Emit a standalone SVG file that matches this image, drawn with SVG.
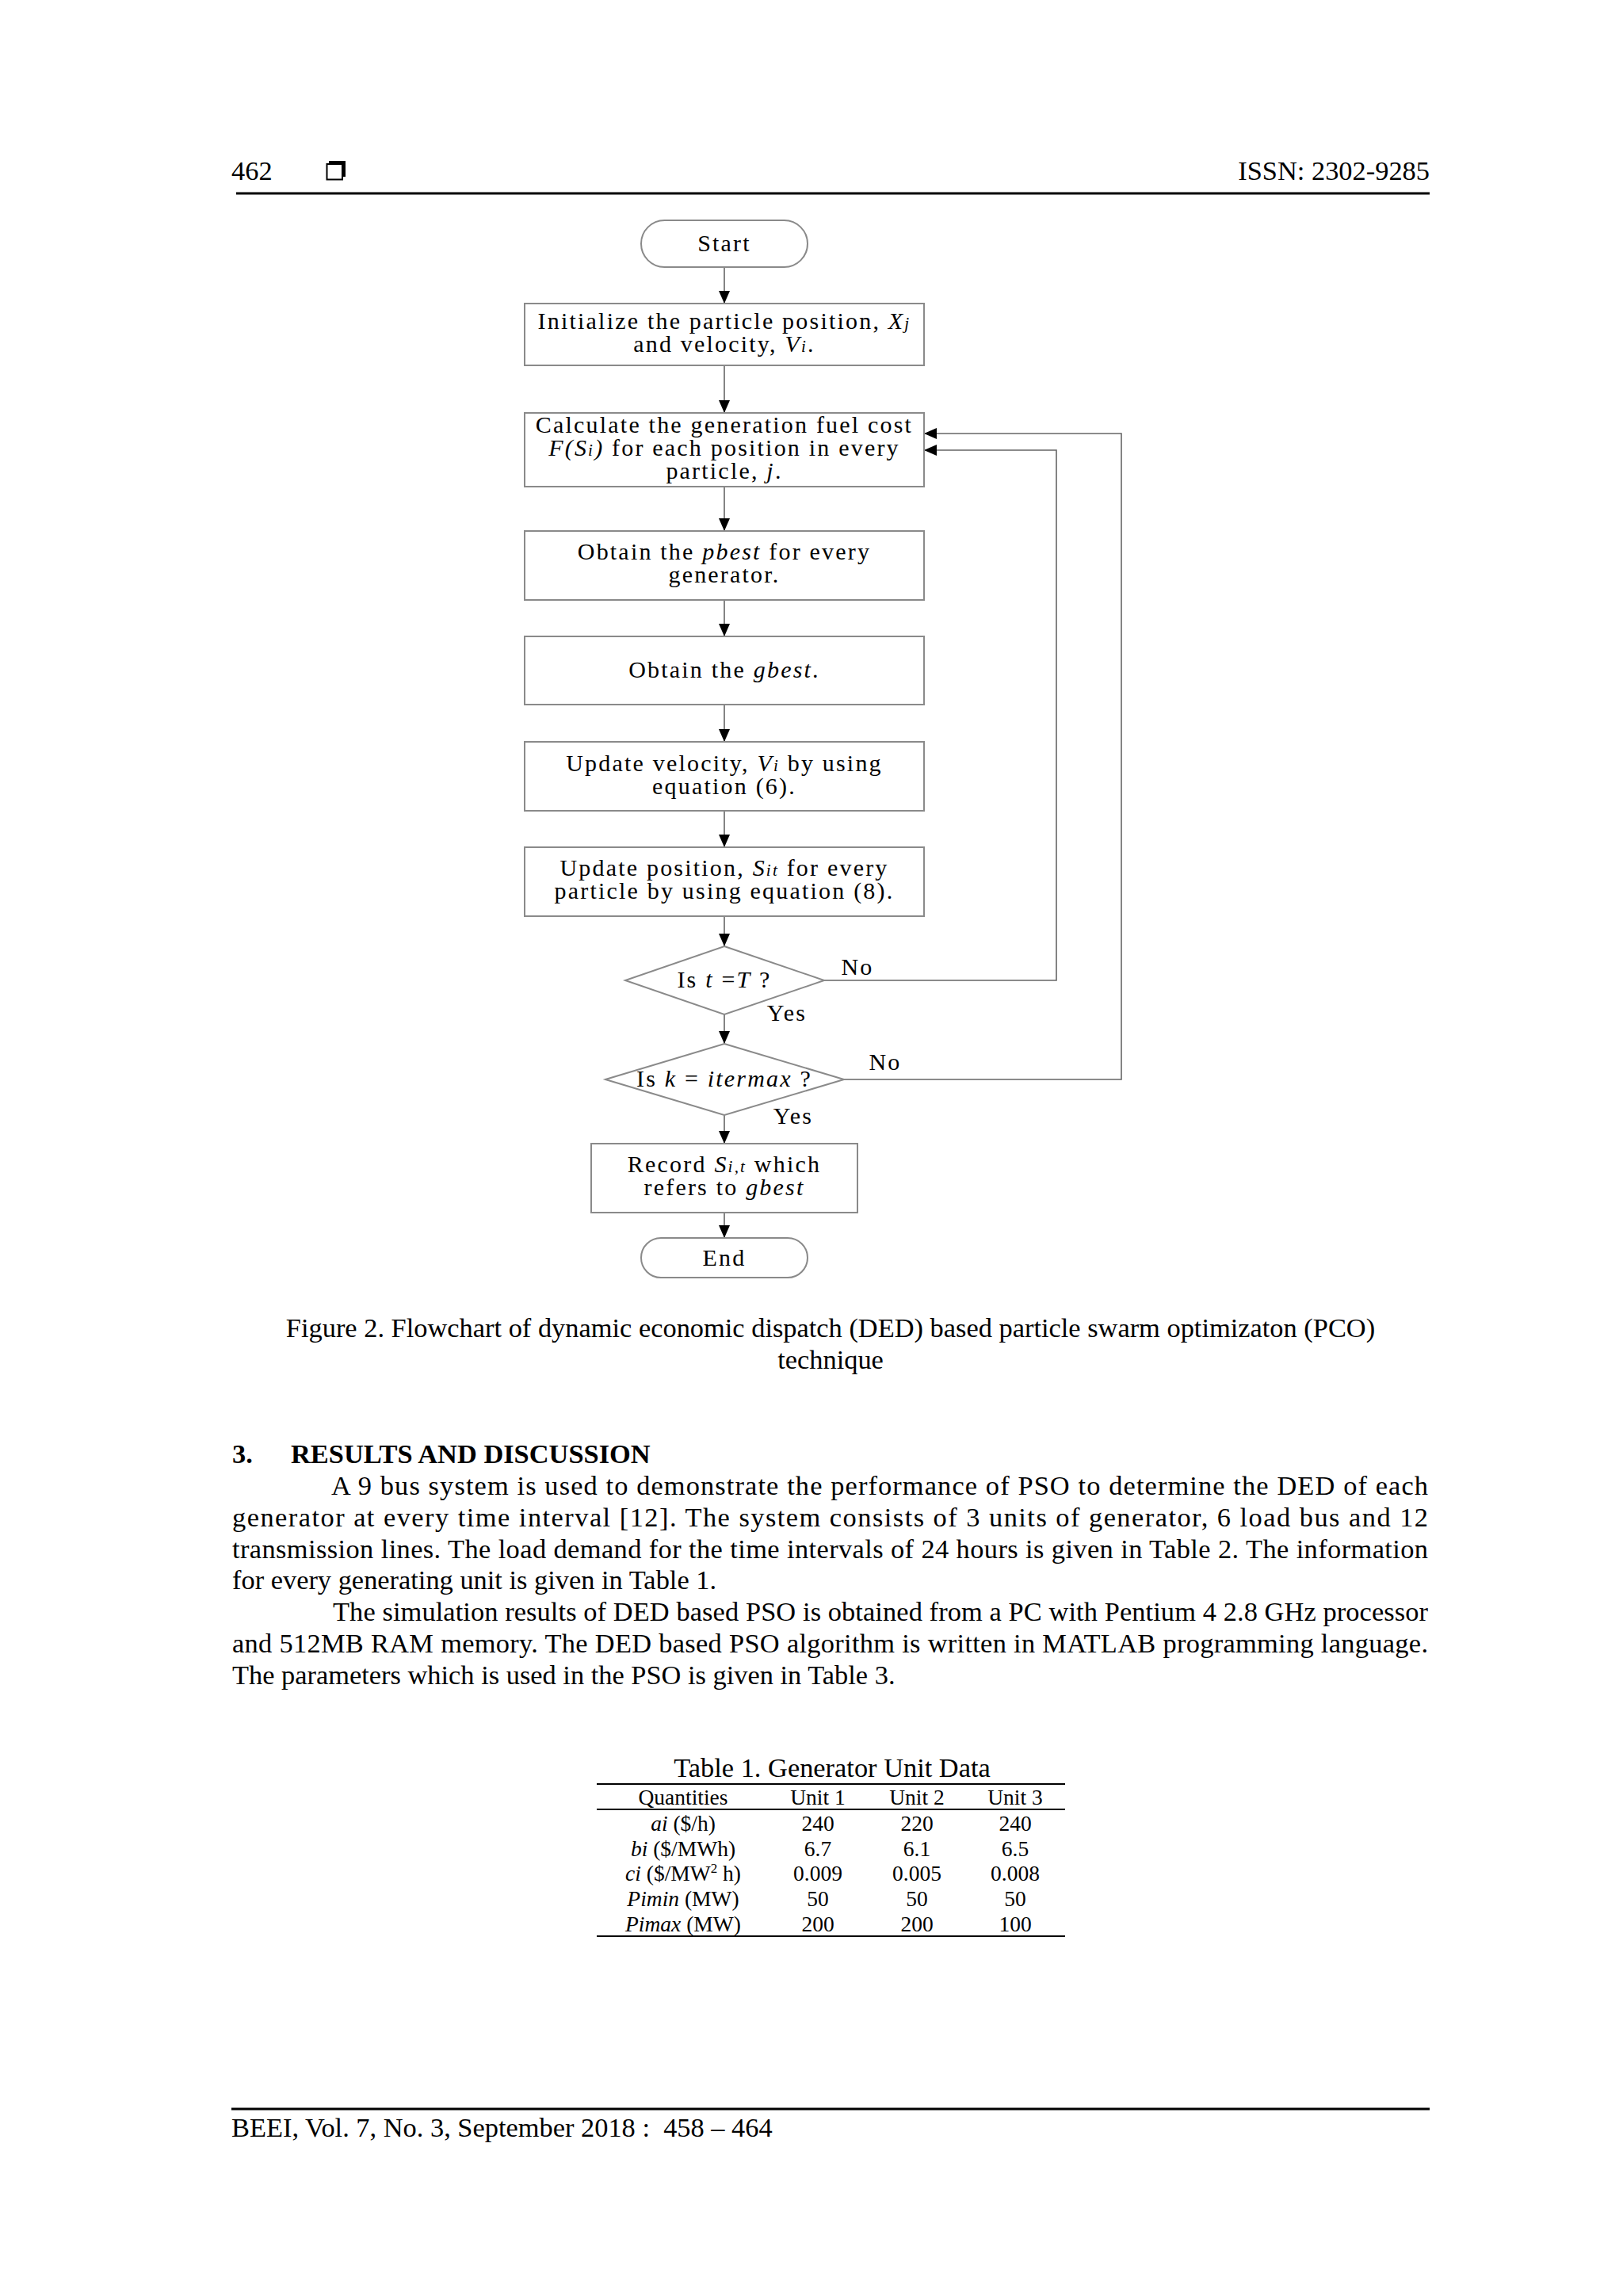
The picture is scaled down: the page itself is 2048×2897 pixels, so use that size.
<svg xmlns="http://www.w3.org/2000/svg" width="2048" height="2897" viewBox="0 0 2048 2897">
<defs>
<style>
.pg{font-family:"Liberation Serif","Times New Roman",serif;fill:#000;font-size:34.4px}
.fc{font-family:"Liberation Serif","Times New Roman",serif;fill:#000;font-size:30px;letter-spacing:2.2px;text-anchor:middle}
.tb{font-family:"Liberation Serif","Times New Roman",serif;fill:#000;font-size:27.5px;text-anchor:middle}
.box{fill:#fff;stroke:#8a8a8a;stroke-width:2}
.conn{fill:none;stroke:#666;stroke-width:1.6}
.rule{stroke:#000;fill:none}
.it{font-style:italic}
.sb{font-style:italic;font-size:21px}
</style>
<marker id="ah" markerUnits="userSpaceOnUse" markerWidth="16" markerHeight="14" refX="16" refY="7" orient="auto">
<path d="M0,0 L16,7 L0,14 z" fill="#000"/>
</marker>
</defs>
<rect width="2048" height="2897" fill="#fff"/>

<g id="header">
<text class="pg" x="292" y="227">462</text>
<rect x="415" y="203" width="21" height="20" fill="#000"/>
<rect x="412.5" y="207" width="19.5" height="19.5" fill="#fff" stroke="#000" stroke-width="2"/>
<text class="pg" x="1804" y="227" text-anchor="end">ISSN: 2302-9285</text>
<line class="rule" x1="298" y1="244" x2="1804" y2="244" stroke-width="3"/>
</g>

<g id="connectors">
<line class="conn" x1="914" y1="337" x2="914" y2="383" marker-end="url(#ah)"/>
<line class="conn" x1="914" y1="461" x2="914" y2="521" marker-end="url(#ah)"/>
<line class="conn" x1="914" y1="614" x2="914" y2="670" marker-end="url(#ah)"/>
<line class="conn" x1="914" y1="757" x2="914" y2="803" marker-end="url(#ah)"/>
<line class="conn" x1="914" y1="889" x2="914" y2="936" marker-end="url(#ah)"/>
<line class="conn" x1="914" y1="1023" x2="914" y2="1069" marker-end="url(#ah)"/>
<line class="conn" x1="914" y1="1156" x2="914" y2="1194" marker-end="url(#ah)"/>
<line class="conn" x1="914" y1="1280" x2="914" y2="1317" marker-end="url(#ah)"/>
<line class="conn" x1="914" y1="1407" x2="914" y2="1443" marker-end="url(#ah)"/>
<line class="conn" x1="914" y1="1530" x2="914" y2="1562" marker-end="url(#ah)"/>
<polyline class="conn" points="1040,1237 1333,1237 1333,568 1166,568" stroke="#888" marker-end="url(#ah)"/>
<polyline class="conn" points="1065,1362 1415,1362 1415,547 1166,547" stroke="#888" marker-end="url(#ah)"/>
<text class="fc" x="1082" y="1230">No</text>
<text class="fc" x="993" y="1288">Yes</text>
<text class="fc" x="1117" y="1350">No</text>
<text class="fc" x="1001" y="1418">Yes</text>
</g>

<g id="start">
<rect class="box" x="809" y="278" width="210" height="59" rx="29.5"/>
<text class="fc" x="914" y="317">Start</text>
</g>

<g id="init">
<rect class="box" x="662" y="383" width="504" height="78"/>
<text class="fc" x="914" y="415">Initialize the particle position, <tspan class="it">X</tspan><tspan class="sb">j</tspan></text>
<text class="fc" x="914" y="444">and velocity, <tspan class="it">V</tspan><tspan class="sb">i</tspan>.</text>
</g>

<g id="calc">
<rect class="box" x="662" y="521" width="504" height="93"/>
<text class="fc" x="914" y="546">Calculate the generation fuel cost</text>
<text class="fc" x="914" y="575"><tspan class="it">F(S</tspan><tspan class="sb">i</tspan><tspan class="it">)</tspan> for each position in every</text>
<text class="fc" x="914" y="604">particle, <tspan class="it">j</tspan>.</text>
</g>

<g id="pbest">
<rect class="box" x="662" y="670" width="504" height="87"/>
<text class="fc" x="914" y="706">Obtain the <tspan class="it">pbest</tspan> for every</text>
<text class="fc" x="914" y="735">generator.</text>
</g>

<g id="gbest">
<rect class="box" x="662" y="803" width="504" height="86"/>
<text class="fc" x="914" y="855">Obtain the <tspan class="it">gbest</tspan>.</text>
</g>

<g id="updv">
<rect class="box" x="662" y="936" width="504" height="87"/>
<text class="fc" x="914" y="973">Update velocity, <tspan class="it">V</tspan><tspan class="sb">i</tspan> by using</text>
<text class="fc" x="914" y="1002">equation (6).</text>
</g>

<g id="updp">
<rect class="box" x="662" y="1069" width="504" height="87"/>
<text class="fc" x="914" y="1105">Update position, <tspan class="it">S</tspan><tspan class="sb">it</tspan> for every</text>
<text class="fc" x="914" y="1134">particle by using equation (8).</text>
</g>

<g id="dec1">
<polygon class="box" points="914,1194 1040,1237 914,1280 789,1237"/>
<text class="fc" x="914" y="1246">Is <tspan class="it">t</tspan> =<tspan class="it">T</tspan> ?</text>
</g>

<g id="dec2">
<polygon class="box" points="914,1317 1065,1362 914,1407 764,1362"/>
<text class="fc" x="914" y="1371">Is <tspan class="it">k</tspan> = <tspan class="it">itermax</tspan> ?</text>
</g>

<g id="record">
<rect class="box" x="746" y="1443" width="336" height="87"/>
<text class="fc" x="914" y="1479">Record <tspan class="it">S</tspan><tspan class="sb">i,t</tspan> which</text>
<text class="fc" x="914" y="1508">refers to <tspan class="it">gbest</tspan></text>
</g>

<g id="end">
<rect class="box" x="809" y="1562" width="210" height="50" rx="25"/>
<text class="fc" x="914" y="1597">End</text>
</g>

<g id="caption">
<text class="pg" x="1048" y="1687" text-anchor="middle">Figure 2. Flowchart of dynamic economic dispatch (DED) based particle swarm optimizaton (PCO)</text>
<text class="pg" x="1048" y="1727" text-anchor="middle">technique</text>
</g>

<g id="body">
<text class="pg" x="293" y="1846" font-weight="bold">3.</text>
<text class="pg" x="367" y="1846" font-weight="bold">RESULTS AND DISCUSSION</text>
<text class="pg" x="418" y="1886" textLength="1384" lengthAdjust="spacing">A 9 bus system is used to demonstrate the performance of PSO to determine the DED of each</text>
<text class="pg" x="293" y="1926" textLength="1509" lengthAdjust="spacing">generator at every time interval [12]. The system consists of 3 units of generator, 6 load bus and 12</text>
<text class="pg" x="293" y="1966" textLength="1509" lengthAdjust="spacing">transmission lines. The load demand for the time intervals of 24 hours is given in Table 2. The information</text>
<text class="pg" x="293" y="2005">for every generating unit is given in Table 1.</text>
<text class="pg" x="420" y="2045" textLength="1382" lengthAdjust="spacing">The simulation results of DED based PSO is obtained from a PC with Pentium 4 2.8 GHz processor</text>
<text class="pg" x="293" y="2085" textLength="1509" lengthAdjust="spacing">and 512MB RAM memory. The DED based PSO algorithm is written in MATLAB programming language.</text>
<text class="pg" x="293" y="2125">The parameters which is used in the PSO is given in Table 3.</text>
</g>

<g id="table1">
<text class="pg" x="1050" y="2242" text-anchor="middle">Table 1. Generator Unit Data</text>
<line class="rule" x1="753" y1="2251" x2="1344" y2="2251" stroke-width="2.2"/>
<line class="rule" x1="753" y1="2283" x2="1344" y2="2283" stroke-width="2"/>
<line class="rule" x1="753" y1="2443" x2="1344" y2="2443" stroke-width="2.2"/>
<text class="tb" x="862" y="2277">Quantities</text>
<text class="tb" x="1032" y="2277">Unit 1</text>
<text class="tb" x="1157" y="2277">Unit 2</text>
<text class="tb" x="1281" y="2277">Unit 3</text>
<text class="tb" x="862" y="2310"><tspan class="it">ai</tspan> ($/h)</text>
<text class="tb" x="1032" y="2310">240</text>
<text class="tb" x="1157" y="2310">220</text>
<text class="tb" x="1281" y="2310">240</text>
<text class="tb" x="862" y="2342"><tspan class="it">bi</tspan> ($/MWh)</text>
<text class="tb" x="1032" y="2342">6.7</text>
<text class="tb" x="1157" y="2342">6.1</text>
<text class="tb" x="1281" y="2342">6.5</text>
<text class="tb" x="862" y="2373"><tspan class="it">ci</tspan> ($/MW<tspan font-size="17" dy="-10">2</tspan><tspan dy="10"> h)</tspan></text>
<text class="tb" x="1032" y="2373">0.009</text>
<text class="tb" x="1157" y="2373">0.005</text>
<text class="tb" x="1281" y="2373">0.008</text>
<text class="tb" x="862" y="2405"><tspan class="it">Pimin</tspan> (MW)</text>
<text class="tb" x="1032" y="2405">50</text>
<text class="tb" x="1157" y="2405">50</text>
<text class="tb" x="1281" y="2405">50</text>
<text class="tb" x="862" y="2437"><tspan class="it">Pimax</tspan> (MW)</text>
<text class="tb" x="1032" y="2437">200</text>
<text class="tb" x="1157" y="2437">200</text>
<text class="tb" x="1281" y="2437">100</text>
</g>

<g id="footer">
<line class="rule" x1="292" y1="2661" x2="1804" y2="2661" stroke-width="3"/>
<text class="pg" x="292" y="2696" xml:space="preserve">BEEI, Vol. 7, No. 3, September 2018 :  458 – 464</text>
</g>
</svg>
